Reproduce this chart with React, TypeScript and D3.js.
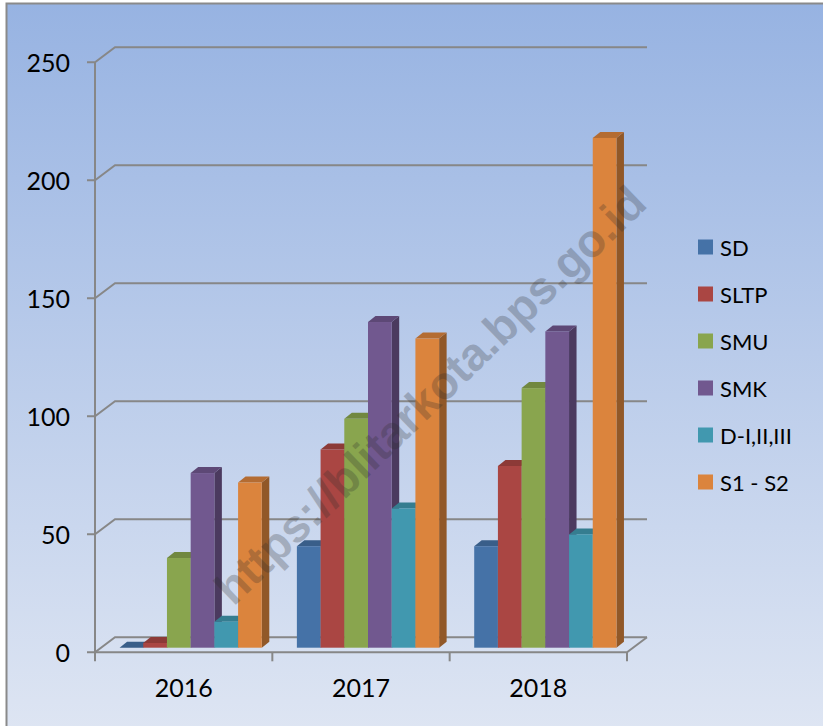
import * as d3 from "d3";

const years = ["2016", "2017", "2018"];
const seriesNames = ["SD", "SLTP", "SMU", "SMK", "D-I,II,III", "S1 - S2"];
const sd = [0, 43, 43];
const sltp = [2, 84, 77];
const smu = [38, 97, 110];
const smk = [74, 138, 134];
const diploma = [11, 59, 48];
const sarjana = [70, 131, 216];
const seriesColors = ["#4572a7", "#aa4643", "#89a54e", "#71588f", "#4198af", "#db843d"];
const yTicks = [0, 50, 100, 150, 200, 250];

const seriesValues = [sd, sltp, smu, smk, diploma, sarjana];

// 3d offsets: back wall, bar front face, bar depth
const WALL = { dx: 20, dy: -15 };
const FRONT = { dx: 7, dy: -4.6 };
const DEPTH = { dx: 7.5, dy: -6 };
const FONT = "Lato, 'Open Sans', sans-serif";

export default function App() {
  const x = d3.scaleBand<string>().domain(years).range([95, 627]).paddingInner(0).paddingOuter(0);
  const inner = d3.scaleBand<string>().domain(seriesNames).range([0, x.bandwidth()]).paddingOuter(0.74);
  const y = d3.scaleLinear().domain([0, 250]).range([652.3, 62.3]);
  const [x0, x1] = x.range();
  const grid = "#878787";

  const bars: JSX.Element[] = [];
  years.forEach((yr, yi) => {
    seriesNames.forEach((name, si) => {
      const v = seriesValues[si][yi];
      const c = d3.color(seriesColors[si])!;
      const l = x(yr)! + inner(name)! + FRONT.dx;
      const r = l + inner.bandwidth();
      const b = y(0) + FRONT.dy;
      const t = y(v) + FRONT.dy;
      const top = `M${l},${t}L${l + DEPTH.dx},${t + DEPTH.dy}L${r + DEPTH.dx},${t + DEPTH.dy}L${r},${t}Z`;
      const side = `M${r},${t}L${r + DEPTH.dx},${t + DEPTH.dy}L${r + DEPTH.dx},${b + DEPTH.dy}L${r},${b}Z`;
      bars.push(
        <g key={`${yr}-${name}`}>
          <path d={side} fill={c.darker(1.15).formatHex()} />
          <path d={top} fill={c.darker(0.55).formatHex()} />
          <rect x={l} y={t} width={r - l} height={b - t} fill={seriesColors[si]} />
        </g>
      );
    });
  });

  return (
    <svg width={823} height={726} style={{ position: "fixed", left: 0, top: 0 }}>
      <defs>
        <linearGradient id="bg" x1="0" y1="0" x2="0" y2="1">
          <stop offset="0" stopColor="#97b3e2" />
          <stop offset="1" stopColor="#dfe6f3" />
        </linearGradient>
      </defs>
      <rect x={0} y={0} width={823} height={726} fill="#ffffff" />
      <rect x={6.5} y={3.5} width={830} height={740} fill="url(#bg)" stroke="#8a8a8a" strokeWidth={2} />

      {/* gridlines with 3d wall */}
      {yTicks.map((t) => (
        <path
          key={t}
          d={`M${x0 - 8},${y(t)}H${x0}L${x0 + WALL.dx},${y(t) + WALL.dy}H${x1 + WALL.dx}`}
          stroke={grid}
          strokeWidth={2}
          fill="none"
        />
      ))}
      {/* floor */}
      <path
        d={`M${x0},${y(0)}H${x1}L${x1 + WALL.dx},${y(0) + WALL.dy}`}
        stroke={grid}
        strokeWidth={2}
        fill="none"
      />
      <line x1={x0} x2={x0} y1={y(250)} y2={y(0) + 9} stroke={grid} strokeWidth={2} />
      {[...years.map((yr) => x(yr)!), x1].slice(1).map((tx) => (
        <line key={tx} x1={tx} x2={tx} y1={y(0)} y2={y(0) + 9} stroke={grid} strokeWidth={2} />
      ))}

      {bars}

      {/* watermark */}
      <text
        transform="translate(430,395) rotate(-44)"
        textAnchor="middle"
        dominantBaseline="central"
        fontFamily="'Liberation Sans', Arial, sans-serif"
        fontWeight="bold"
        fontSize={46}
        fill="#2b2b2b"
        opacity={0.25}
      >
        https://blitarkota.bps.go.id
      </text>

      {yTicks.map((t) => (
        <text key={t} x={70} y={y(t)} textAnchor="end" dominantBaseline="central" fontFamily={FONT} fontSize={25} fill="#000">
          {t}
        </text>
      ))}
      {years.map((yr) => (
        <text
          key={yr}
          x={x(yr)! + x.bandwidth() / 2}
          y={687}
          textAnchor="middle"
          dominantBaseline="central"
          fontFamily={FONT}
          fontSize={25}
          fill="#000"
        >
          {yr}
        </text>
      ))}

      {seriesNames.map((name, i) => (
        <g key={name} transform={`translate(698,${247 + i * 47})`}>
          <rect x={0} y={-7.5} width={15} height={15} fill={seriesColors[i]} />
          <text x={22} y={0} dominantBaseline="central" fontFamily={FONT} fontSize={22} fill="#000">
            {name}
          </text>
        </g>
      ))}
    </svg>
  );
}
